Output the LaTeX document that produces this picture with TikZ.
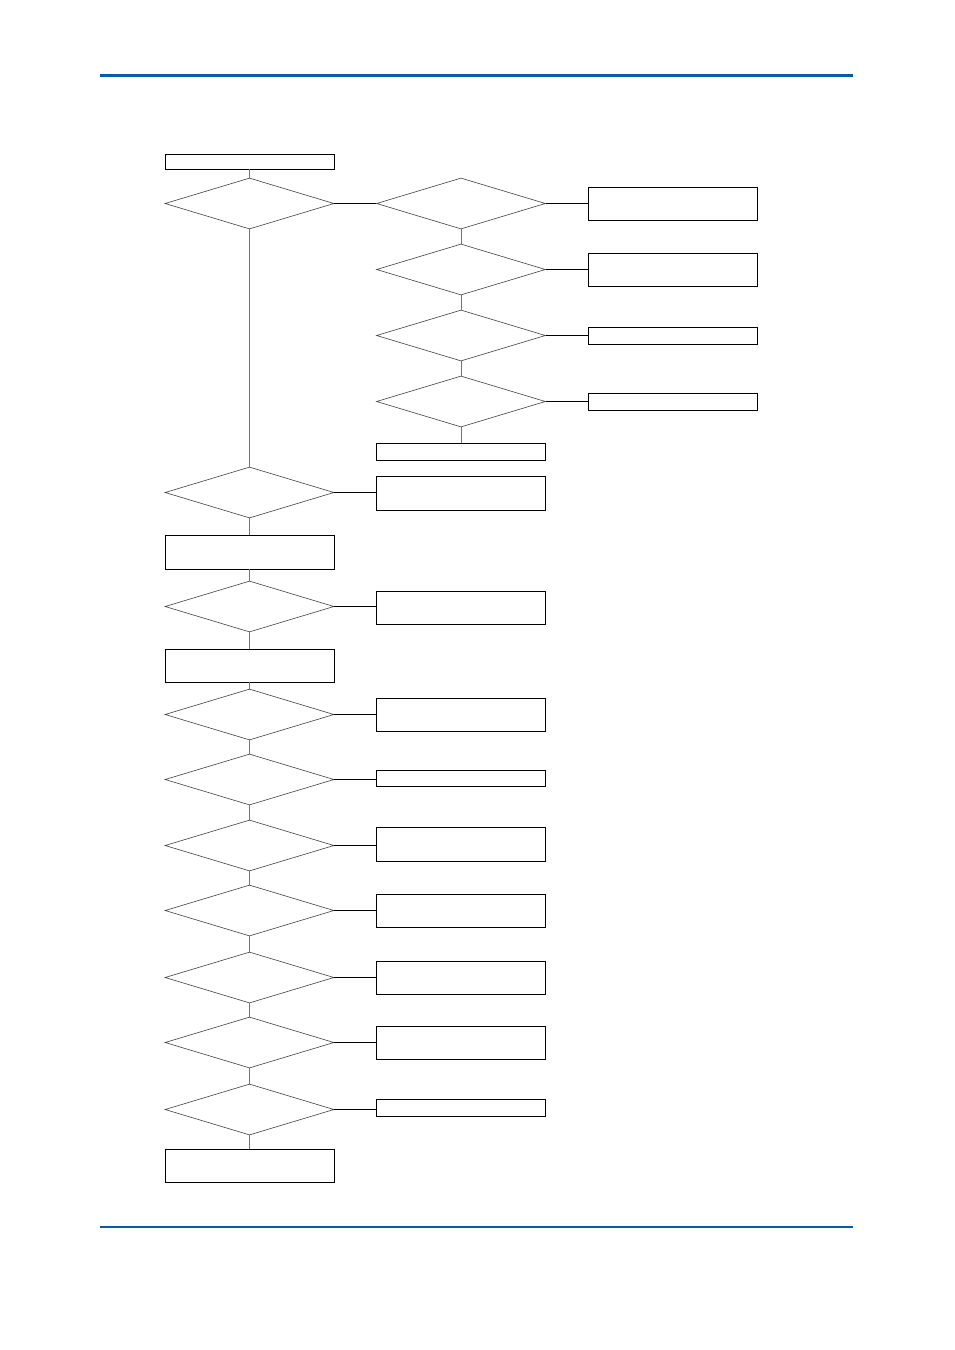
\documentclass[tikz,border=0pt]{standalone}
\usepackage{xcolor}
\usepackage{tikz}
\usetikzlibrary{shapes.geometric}

\definecolor{bleu}{RGB}{0,94,168}

\tikzset{
  losange/.style={diamond, draw=black!75, line width=0.6pt, minimum width=169pt, minimum height=51pt, inner sep=0pt},
  boite/.style={rectangle, draw=black, line width=0.9pt, minimum width=169pt, inner sep=0pt},
  lien/.style={draw=black!55, line width=0.9pt},
  lienh/.style={draw=black, line width=0.9pt}
}

\begin{document}
\begin{tikzpicture}[x=1pt, y=-1pt]
        % Cadre de la page
        \useasboundingbox (0,0) rectangle (954,1350);

        % Filets bleus en haut et en bas
        \fill[bleu] (100,73.5) rectangle (853,76.5);
        \fill[bleu] (100,1226) rectangle (853,1228);

        % Colonne de gauche
        \node[boite, minimum height=15pt] (debut) at (249.5,161.5) {};
        \node[losange] (g1) at (249.5,203.5) {};
        \node[losange] (g2) at (249.5,492.5) {};
        \node[boite, minimum height=34pt] (bg1) at (249.5,552) {};
        \node[losange] (g3) at (249.5,606.5) {};
        \node[boite, minimum height=33pt] (bg2) at (249.5,665.5) {};
        \node[losange] (g4) at (249.5,714.5) {};
        \node[losange] (g5) at (249.5,779.5) {};
        \node[losange] (g6) at (249.5,845.5) {};
        \node[losange] (g7) at (249.5,910.5) {};
        \node[losange] (g8) at (249.5,977.5) {};
        \node[losange] (g9) at (249.5,1042.5) {};
        \node[losange] (g10) at (249.5,1109.5) {};
        \node[boite, minimum height=33pt] (fin) at (249.5,1165.5) {};

        % Colonne du milieu
        \node[losange] (m1) at (461,203.5) {};
        \node[losange] (m2) at (461,269.5) {};
        \node[losange] (m3) at (461,335.5) {};
        \node[losange] (m4) at (461,401.5) {};
        \node[boite, minimum height=17pt] (mfin) at (461,451.5) {};
        \node[boite, minimum height=34pt] (bm2) at (461,493) {};
        \node[boite, minimum height=33pt] (bm3) at (461,607.5) {};
        \node[boite, minimum height=33pt] (bm4) at (461,714.5) {};
        \node[boite, minimum height=16pt] (bm5) at (461,778) {};
        \node[boite, minimum height=34pt] (bm6) at (461,844) {};
        \node[boite, minimum height=33pt] (bm7) at (461,910.5) {};
        \node[boite, minimum height=33pt] (bm8) at (461,977.5) {};
        \node[boite, minimum height=33pt] (bm9) at (461,1042.5) {};
        \node[boite, minimum height=17pt] (bm10) at (461,1107.5) {};

        % Colonne de droite
        \node[boite, minimum height=33pt] (d1) at (672.5,203.5) {};
        \node[boite, minimum height=33pt] (d2) at (672.5,269.5) {};
        \node[boite, minimum height=17pt] (d3) at (672.5,335.5) {};
        \node[boite, minimum height=17pt] (d4) at (672.5,401.5) {};

        % Liaisons verticales
        \draw[lien] (debut) -- (g1);
        \draw[lien] (g1) -- (g2);
        \draw[lien] (g2) -- (bg1);
        \draw[lien] (bg1) -- (g3);
        \draw[lien] (g3) -- (bg2);
        \draw[lien] (bg2) -- (g4);
        \draw[lien] (g4) -- (g5);
        \draw[lien] (g5) -- (g6);
        \draw[lien] (g6) -- (g7);
        \draw[lien] (g7) -- (g8);
        \draw[lien] (g8) -- (g9);
        \draw[lien] (g9) -- (g10);
        \draw[lien] (g10) -- (fin);
        \draw[lien] (m1) -- (m2);
        \draw[lien] (m2) -- (m3);
        \draw[lien] (m3) -- (m4);
        \draw[lien] (m4) -- (mfin);

        % Liaisons horizontales
        \draw[lienh] (g1.east) -- (m1.west);
        \draw[lienh] (m1.east) -- (d1.west);
        \draw[lienh] (m2.east) -- (d2.west);
        \draw[lienh] (m3.east) -- (d3.west);
        \draw[lienh] (m4.east) -- (d4.west);
        \draw[lienh] (g2.east) -- (g2.east -| bm2.west);
        \draw[lienh] (g3.east) -- (g3.east -| bm3.west);
        \draw[lienh] (g4.east) -- (g4.east -| bm4.west);
        \draw[lienh] (g5.east) -- (g5.east -| bm5.west);
        \draw[lienh] (g6.east) -- (g6.east -| bm6.west);
        \draw[lienh] (g7.east) -- (g7.east -| bm7.west);
        \draw[lienh] (g8.east) -- (g8.east -| bm8.west);
        \draw[lienh] (g9.east) -- (g9.east -| bm9.west);
        \draw[lienh] (g10.east) -- (g10.east -| bm10.west);
\end{tikzpicture}
\end{document}
